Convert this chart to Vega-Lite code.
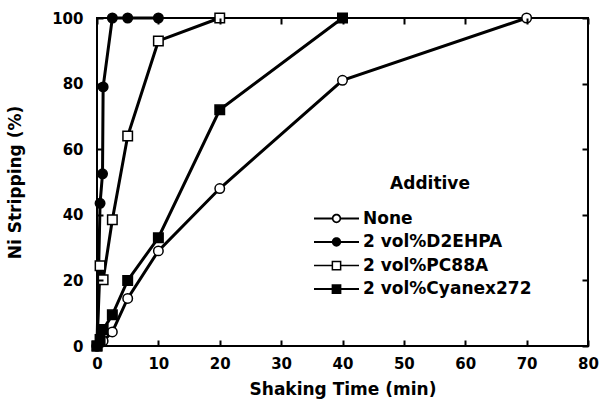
{
  "$schema": "https://vega.github.io/schema/vega-lite/v6.json",
  "width": 491,
  "height": 328,
  "autosize": {"type": "none"},
  "padding": {"left": 97, "top": 18, "right": 14, "bottom": 64},
  "background": "white",
  "config": {
    "font": "DejaVu Sans",
    "view": {"stroke": "black", "strokeWidth": 2},
    "axis": {
      "labelFont": "DejaVu Sans", "labelFontWeight": "bold", "labelFontSize": 15, "labelColor": "black",
      "titleFont": "DejaVu Sans", "titleFontWeight": "bold", "titleFontSize": 17, "titleColor": "black",
      "domainColor": "black", "domainWidth": 2, "tickColor": "black", "tickWidth": 2, "grid": false
    },
    "legend": {
      "labelFont": "DejaVu Sans", "titleFont": "DejaVu Sans"
    }
  },
  "data": {
    "values": [
      {"series": "None", "time": 0, "strip": 0},
      {"series": "None", "time": 1, "strip": 1.5},
      {"series": "None", "time": 2.5, "strip": 4.3},
      {"series": "None", "time": 5, "strip": 14.5},
      {"series": "None", "time": 10, "strip": 29},
      {"series": "None", "time": 20, "strip": 48},
      {"series": "None", "time": 40, "strip": 81},
      {"series": "None", "time": 70, "strip": 100},
      {"series": "2 vol%D2EHPA", "time": 0, "strip": 0},
      {"series": "2 vol%D2EHPA", "time": 0.5, "strip": 43.5},
      {"series": "2 vol%D2EHPA", "time": 0.9, "strip": 52.5},
      {"series": "2 vol%D2EHPA", "time": 1, "strip": 79},
      {"series": "2 vol%D2EHPA", "time": 2.5, "strip": 100},
      {"series": "2 vol%D2EHPA", "time": 5, "strip": 100},
      {"series": "2 vol%D2EHPA", "time": 10, "strip": 100},
      {"series": "2 vol%PC88A", "time": 0, "strip": 0},
      {"series": "2 vol%PC88A", "time": 0.5, "strip": 24.5},
      {"series": "2 vol%PC88A", "time": 1, "strip": 20.2},
      {"series": "2 vol%PC88A", "time": 2.5, "strip": 38.5},
      {"series": "2 vol%PC88A", "time": 5, "strip": 64},
      {"series": "2 vol%PC88A", "time": 10, "strip": 93},
      {"series": "2 vol%PC88A", "time": 20, "strip": 100},
      {"series": "2 vol%Cyanex272", "time": 0, "strip": 0},
      {"series": "2 vol%Cyanex272", "time": 0.5, "strip": 2},
      {"series": "2 vol%Cyanex272", "time": 1, "strip": 5},
      {"series": "2 vol%Cyanex272", "time": 2.5, "strip": 9.5},
      {"series": "2 vol%Cyanex272", "time": 5, "strip": 20},
      {"series": "2 vol%Cyanex272", "time": 10, "strip": 33},
      {"series": "2 vol%Cyanex272", "time": 20, "strip": 72},
      {"series": "2 vol%Cyanex272", "time": 40, "strip": 100}
    ]
  },
  "layer": [
    {
      "mark": {"type": "line", "color": "black", "strokeWidth": 3},
      "encoding": {
        "x": {
          "field": "time", "type": "quantitative", "scale": {"domain": [0, 80], "nice": false},
          "axis": {"orient": "bottom", "values": [0, 10, 20, 30, 40, 50, 60, 70, 80], "ticks": false, "domain": false, "labelPadding": 10, "labelFlush": false, "title": "Shaking Time (min)", "titlePadding": 10}
        },
        "y": {
          "field": "strip", "type": "quantitative", "scale": {"domain": [0, 100], "nice": false},
          "axis": {"orient": "left", "values": [0, 20, 40, 60, 80, 100], "ticks": false, "domain": false, "labelPadding": 14, "labelFlush": false, "title": "Ni Stripping (%)", "titlePadding": 27}
        },
        "detail": {"field": "series"}
      }
    },
    {
      "mark": {"type": "point", "filled": true, "stroke": "black", "strokeWidth": 1.5, "size": 90, "opacity": 1},
      "encoding": {
        "x": {
          "field": "time", "type": "quantitative",
          "axis": {"orient": "bottom", "values": [0, 10, 20, 30, 40, 50, 60, 70, 80], "tickSize": -6, "labels": false, "domain": false, "title": null, "zindex": 1}
        },
        "y": {
          "field": "strip", "type": "quantitative",
          "axis": {"orient": "left", "values": [0, 20, 40, 60, 80, 100], "tickSize": -6, "labels": false, "domain": false, "title": null, "zindex": 1}
        },
        "shape": {
          "field": "series", "type": "nominal",
          "scale": {"domain": ["None", "2 vol%D2EHPA", "2 vol%PC88A", "2 vol%Cyanex272"], "range": ["circle", "circle", "square", "square"]},
          "legend": null
        },
        "fill": {
          "field": "series", "type": "nominal",
          "scale": {"domain": ["None", "2 vol%D2EHPA", "2 vol%PC88A", "2 vol%Cyanex272"], "range": ["white", "black", "white", "black"]},
          "legend": null
        }
      }
    },
    {
      "mark": {"type": "point", "filled": true, "color": "black", "strokeWidth": 0, "size": 225, "opacity": 0},
      "encoding": {
        "x": {
          "field": "time", "type": "quantitative",
          "axis": {"orient": "top", "values": [0, 10, 20, 30, 40, 50, 60, 70, 80], "tickSize": -6, "labels": false, "domain": false, "title": null, "zindex": 1}
        },
        "y": {
          "field": "strip", "type": "quantitative",
          "axis": {"orient": "right", "values": [0, 20, 40, 60, 80, 100], "tickSize": -6, "labels": false, "domain": false, "title": null, "zindex": 1}
        },
        "shape": {
          "field": "series", "type": "nominal",
          "scale": {"domain": ["None", "2 vol%D2EHPA", "2 vol%PC88A", "2 vol%Cyanex272"], "range": [
            "M-3,-0.13H-0.5V0.13H-3ZM0.5,-0.13H3V0.13H0.5ZM0.62,0A0.62,0.62 0 1,1 -0.62,0A0.62,0.62 0 1,1 0.62,0ZM0.4,0A0.4,0.4 0 1,0 -0.4,0A0.4,0.4 0 1,0 0.4,0Z",
            "M-3,-0.13H-0.5V0.13H-3ZM0.5,-0.13H3V0.13H0.5ZM0.62,0A0.62,0.62 0 1,1 -0.62,0A0.62,0.62 0 1,1 0.62,0Z",
            "M-3,-0.1H-0.5V0.1H-3ZM0.5,-0.1H3V0.1H0.5ZM-0.65,-0.65H0.65V0.65H-0.65ZM-0.45,-0.45V0.45H0.45V-0.45Z",
            "M-3,-0.13H-0.5V0.13H-3ZM0.5,-0.13H3V0.13H0.5ZM-0.65,-0.65H0.65V0.65H-0.65Z"]},
          "legend": {
            "title": "Additive", "orient": "none", "legendX": 231, "legendY": 158, "padding": 0,
            "symbolSize": 225, "labelOffset": 18, "labelFontSize": 17, "labelFontWeight": "bold", "labelColor": "black", "labelLimit": 400,
            "titleFontSize": 17, "titleFontWeight": "bold", "titleColor": "black", "titleAnchor": "middle", "titlePadding": 17,
            "rowPadding": 5.5, "symbolFillColor": "black", "symbolStrokeWidth": 0, "symbolOpacity": 1
          }
        }
      }
    }
  ],
  "resolve": {"axis": {"x": "independent", "y": "independent"}, "scale": {"shape": "independent"}}
}
